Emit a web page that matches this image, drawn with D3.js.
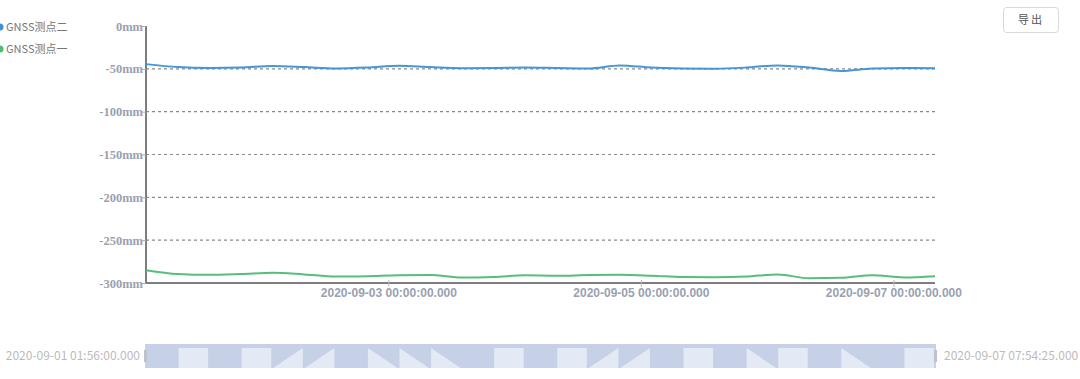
<!DOCTYPE html>
<html><head><meta charset="utf-8">
<script src="https://cdn.jsdelivr.net/npm/d3@7"></script>
<style>
body{margin:0;background:#fff;}
svg{display:block;font-family:"Noto Sans CJK SC","Noto Sans",sans-serif;}
</style></head>
<body>
<svg id="chart" width="1080" height="379"></svg>
<script>
const times = ["2020-09-01T01:56:00","2020-09-01T08:00:00","2020-09-01T14:00:00","2020-09-01T20:00:00",
"2020-09-02T02:00:00","2020-09-02T08:00:00","2020-09-02T14:00:00","2020-09-02T20:00:00",
"2020-09-03T02:00:00","2020-09-03T08:00:00","2020-09-03T14:00:00","2020-09-03T20:00:00",
"2020-09-04T02:00:00","2020-09-04T08:00:00","2020-09-04T14:00:00","2020-09-04T20:00:00",
"2020-09-05T02:00:00","2020-09-05T08:00:00","2020-09-05T14:00:00","2020-09-05T20:00:00",
"2020-09-06T02:00:00","2020-09-06T08:00:00","2020-09-06T14:00:00","2020-09-06T20:00:00",
"2020-09-07T02:00:00","2020-09-07T07:54:25"];
const seriesNames = ["GNSS测点二","GNSS测点一"];
const point2 = [-44.5,-48,-49,-48.5,-46.8,-48,-49.5,-48.5,-46.5,-48,-49.2,-49,-48.5,-49,-49.5,-46,-48.5,-49.5,-49.8,-48.5,-46,-48.5,-52.5,-49.5,-49,-49.3];
const point1 = [-285,-289.5,-290.5,-289.5,-288,-290,-292.5,-292,-291,-290.8,-293.7,-293,-291,-291.5,-290.8,-290.5,-291.5,-293,-293.3,-292.5,-290,-294.5,-294,-291,-293.5,-292];
const yTicks = [0,-50,-100,-150,-200,-250,-300];
const xTicks = ["2020-09-03T00:00:00","2020-09-05T00:00:00","2020-09-07T00:00:00"];
const rangeLabels = ["2020-09-01 01:56:00.000","2020-09-07 07:54:25.000"];
const colors = ["#3d8fd8","#4cbb74"];
const thumbPattern = ["","s","","s","u","u","","d","d","d","","s","","s","u","u","","s","","d","s","","d","","s"];

(function(){
const parse = d3.timeParse("%Y-%m-%dT%H:%M:%S");
const T = times.map(parse);
const svg = d3.select("#chart");
const L = 146, R = 935, TOP = 26, BOT = 283;
const x = d3.scaleTime().domain([T[0], T[T.length-1]]).range([L, R]);
const y = d3.scaleLinear().domain([-300, 0]).range([BOT, TOP]);

// grid
svg.append("g").selectAll("line").data(yTicks.filter(v => v !== 0 && v !== -300)).join("line")
  .attr("x1", L).attr("x2", R).attr("y1", d => y(d)).attr("y2", d => y(d))
  .attr("stroke", "#8a8a8a").attr("stroke-width", 1.2).attr("stroke-dasharray", "3,3");

// y axis
const yAxis = svg.append("g").attr("transform", `translate(${L},0)`)
  .call(d3.axisLeft(y).tickValues(yTicks).tickSize(4).tickFormat(d => d + "mm"));
yAxis.select(".domain").attr("stroke", "#7d7d7d").attr("stroke-width", 2).attr("d", `M0,${TOP}V${BOT}`);
yAxis.selectAll(".tick line").attr("stroke", "#aaa");
yAxis.selectAll(".tick text").attr("fill", "#9aa1b0").attr("font-size", 12.5).attr("font-weight", "bold")
  .attr("font-family", "'Liberation Serif',serif").attr("x", -3);

// x axis
const xAxis = svg.append("g").attr("transform", `translate(0,${BOT})`)
  .call(d3.axisBottom(x).tickValues(xTicks.map(parse)).tickSize(5)
    .tickFormat(d3.timeFormat("%Y-%m-%d %H:%M:%S.000")));
xAxis.select(".domain").attr("stroke", "#7d7d7d").attr("stroke-width", 2).attr("d", `M${L},0H${R}`);
xAxis.selectAll(".tick line").attr("stroke", "#bbb").attr("y1", -3).attr("y2", 4);
xAxis.selectAll(".tick text").attr("fill", "#9aa1b0").attr("font-size", 12).attr("font-weight", "bold")
  .attr("font-family", "'Liberation Sans',sans-serif").attr("dy", "0.9em").attr("y", 3);

// lines
const line = d3.line().x((d, i) => x(T[i])).y(d => y(d)).curve(d3.curveMonotoneX);
[point2, point1].forEach((vals, k) => {
  svg.append("path").datum(vals).attr("d", line).attr("fill", "none")
    .attr("stroke", colors[k]).attr("stroke-width", 2).attr("stroke-opacity", 0.95);
});

// legend
const leg = svg.append("g").selectAll("g").data(seriesNames).join("g")
  .attr("transform", (d, i) => `translate(0,${27 + i * 22})`);
leg.append("circle").attr("cx", 0).attr("cy", 0).attr("r", 3.5).attr("fill", (d, i) => colors[i]);
leg.append("text").attr("x", 6).attr("y", 0).attr("dy", "0.35em").attr("font-size", 11)
  .attr("fill", "#777").text(d => d);

// export button
svg.append("rect").attr("x", 1003.5).attr("y", 7.5).attr("width", 55).attr("height", 25).attr("rx", 3)
  .attr("fill", "#fff").attr("stroke", "#d9d9d9");
svg.append("text").attr("x", 1031).attr("y", 20).attr("dy", "0.35em").attr("text-anchor", "middle")
  .attr("font-size", 11).attr("letter-spacing", 2).attr("fill", "#555").text("导出");

// data zoom slider
const sy = 344, sh = 24;
svg.append("rect").attr("x", L - 1).attr("y", sy).attr("width", R - L + 2).attr("height", sh).attr("fill", "#c6d1e8");
const cw = (R - L) / thumbPattern.length;
svg.append("g").selectAll("path").data(thumbPattern).join("path")
  .attr("d", (p, i) => {
    const x0 = L + i * cw + 1, x1 = x0 + cw - 2, y0 = sy + 4, y1 = sy + sh;
    if (p === "s") return `M${x0},${y0}H${x1}V${y1}H${x0}Z`;
    if (p === "u") return `M${x0},${y1}L${x1},${y0}V${y1}Z`;
    if (p === "d") return `M${x0},${y0}L${x1},${y1}H${x0}Z`;
    return "";
  }).attr("fill", "#e3e9f5");
svg.append("rect").attr("x", L - 2).attr("y", sy + 6).attr("width", 3).attr("height", 12).attr("fill", "#bcc3cf");
svg.append("rect").attr("x", R - 1).attr("y", sy + 6).attr("width", 3).attr("height", 12).attr("fill", "#bcc3cf");
svg.append("text").attr("x", L - 6).attr("y", sy + 12).attr("dy", "0.35em").attr("text-anchor", "end")
  .attr("font-size", 12).attr("fill", "#bbb").text(rangeLabels[0]);
svg.append("text").attr("x", R + 9).attr("y", sy + 12).attr("dy", "0.35em").attr("text-anchor", "start")
  .attr("font-size", 12).attr("fill", "#bbb").text(rangeLabels[1]);
})();
</script>
</body></html>
